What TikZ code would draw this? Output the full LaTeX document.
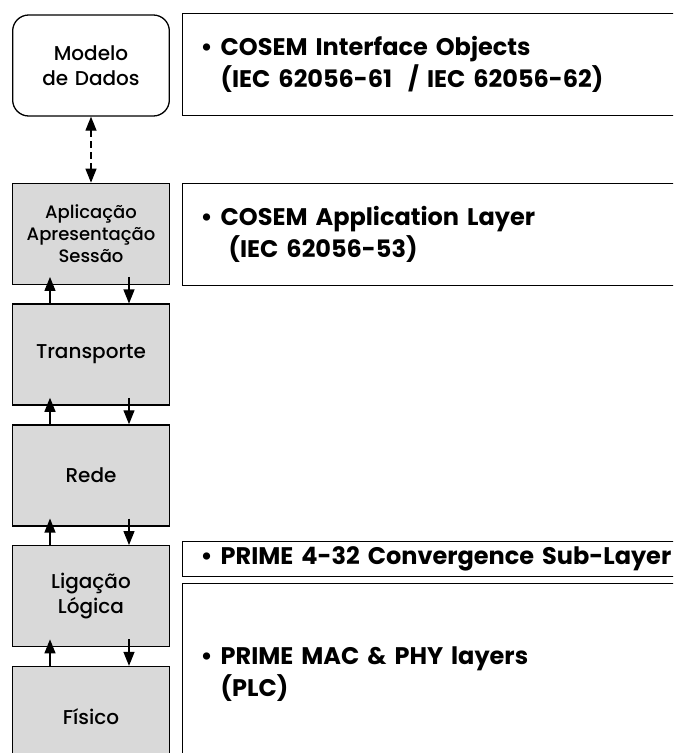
\documentclass[tikz,border=0pt]{standalone}
\usepackage{fontspec}
\setmainfont{Poppins}
\newfontfamily\layerfont{Poppins}[UprightFont=* Medium]
\usepackage{tikz}
\usetikzlibrary{arrows.meta,positioning}

\definecolor{layergray}{RGB}{217,217,217}

\begin{document}
\begin{tikzpicture}[
    x=1pt, y=1pt,
    layer/.style={rectangle, draw, line width=1.3pt, fill=layergray, minimum width=154pt, minimum height=101pt, text width=150pt, align=center, font=\layerfont\fontsize{20}{25}\selectfont},
    model/.style={layer, fill=white, rounded corners=16pt},
    desc/.style={rectangle, draw, line width=1.3pt, anchor=north west, minimum width=520pt, text width=484pt, inner xsep=18pt, align=left, font=\bfseries\fontsize{24}{32}\selectfont},
    link/.style={-{Triangle[length=14pt,width=11pt]}, line width=1.2pt}
]
    \useasboundingbox (0,0) rectangle (673,-753);
    \clip (0,0) rectangle (673,-753);

    % Layer stack
    \node[model] (dados) at (91,-65.5) {Modelo\\de Dados};
    \node[layer, below=66pt of dados, font=\layerfont\fontsize{18}{22}\selectfont] (sessao) {Aplicação\\Apresentação\\Sessão};
    \node[layer, below=18.5pt of sessao] (transporte) {Transporte};
    \node[layer, below=18.5pt of transporte] (rede) {Rede};
    \node[layer, below=18.5pt of rede] (ligacao) {Ligação\\Lógica};
    \node[layer, below=18.5pt of ligacao] (fisico) {Físico};

    % Descriptions
    \node[desc, minimum height=102pt] (objetos) at (182,-13) {• COSEM Interface Objects\\\phantom{•\ }(IEC 62056-61~ / IEC 62056-62)};
    \node[desc, minimum height=102pt] (aplicacao) at (182,-183) {• COSEM Application Layer\\\phantom{•\ } (IEC 62056-53)};
    \node[desc, minimum height=35pt] (convergencia) at (182,-541) {• PRIME 4-32 Convergence Sub-Layer};
    \node[desc, minimum height=180pt] (phy) at (182,-583) {• PRIME MAC \& PHY layers\\\phantom{•\ }(PLC)};

    % Arrows
    \draw[link, dash pattern=on 7pt off 4pt, {Triangle[length=14pt,width=11pt]}-{Triangle[length=14pt,width=11pt]}] (dados.south) -- (sessao.north);
    \foreach \up/\lo in {sessao/transporte, transporte/rede, rede/ligacao, ligacao/fisico} {
        \draw[link] ([xshift=-41pt]\lo.north) -- ([xshift=-41pt,yshift=8pt]\up.south);
        \draw[link] ([xshift=38pt,yshift=8pt]\up.south) -- ([xshift=38pt]\lo.north);
    }
\end{tikzpicture}
\end{document}
